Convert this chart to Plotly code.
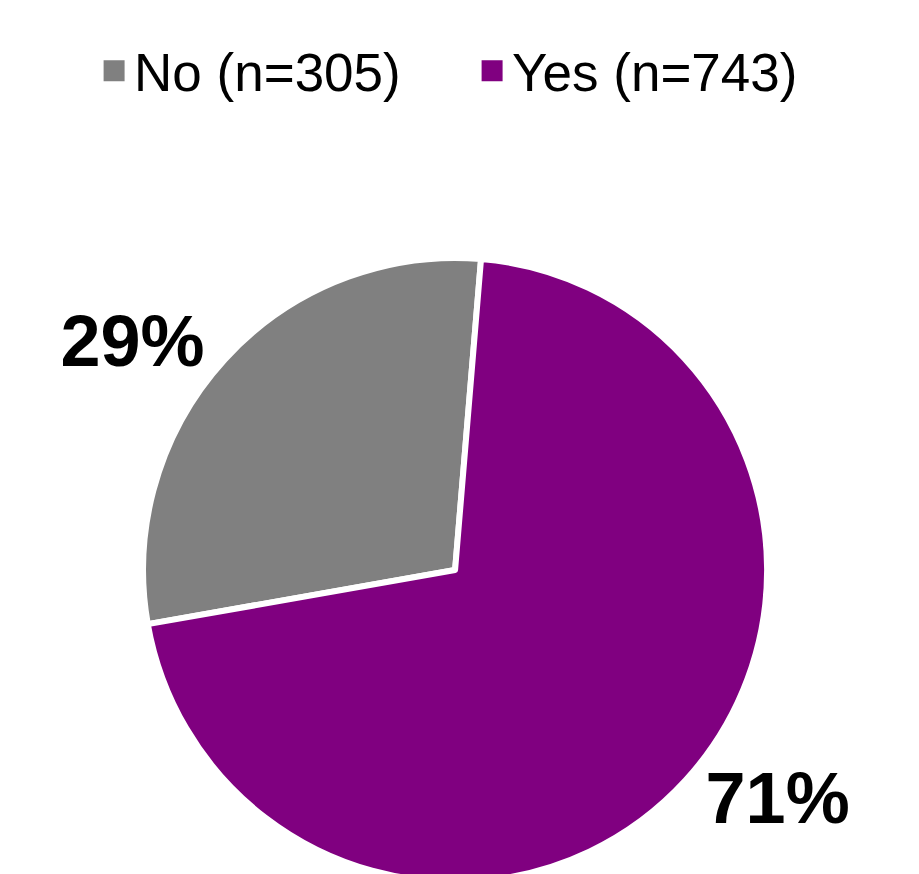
import plotly.graph_objects as go

labels = ["No (n=305)", "Yes (n=743)"]
values = [305, 743]
colors = ["#808080", "#800080"]

fig = go.Figure()
fig.add_trace(
    go.Pie(
        labels=labels,
        values=values,
        sort=False,
        direction="clockwise",
        rotation=-100,
        marker=dict(colors=colors, line=dict(color="white", width=6)),
        texttemplate="%{percent:.0%}",
        textposition="outside",
        textfont=dict(family="Liberation Sans, Arial, sans-serif", size=72, color="black", weight="bold"),
        domain=dict(x=[0, 0.973], y=[0, 0.714]),
        hoverinfo="label+percent",
        showlegend=False,
        automargin=False,
    )
)
# legend-only entries with larger square swatches
for lab, col in zip(labels, colors):
    fig.add_trace(
        go.Scatter(
            x=[None], y=[None], mode="markers", name=lab,
            marker=dict(symbol="square", size=16, color=col, line=dict(color=col, width=5)),
            showlegend=True,
        )
    )

fig.update_layout(
    width=919,
    height=874,
    margin=dict(l=0, r=0, t=0, b=0, pad=0, autoexpand=False),
    paper_bgcolor="white",
    plot_bgcolor="white",
    xaxis=dict(visible=False),
    yaxis=dict(visible=False),
    showlegend=True,
    legend=dict(
        orientation="h",
        x=0.505,
        xanchor="center",
        y=0.975,
        yanchor="top",
        font=dict(family="Liberation Sans, Arial, sans-serif", size=53, color="black"),
        entrywidth=333,
        entrywidthmode="pixels",
    ),
)

fig.write_html("out.html")
